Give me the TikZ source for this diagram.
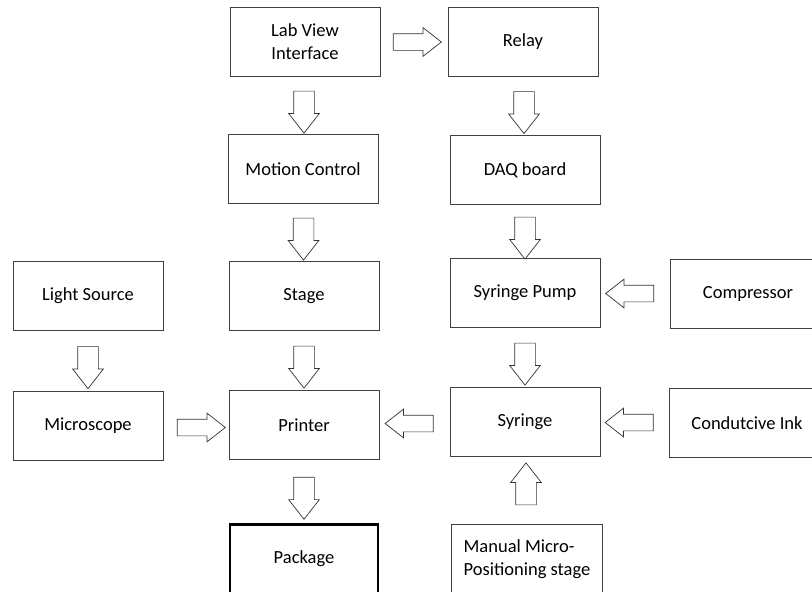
\documentclass[tikz,border=0pt]{standalone}
\usepackage{fontspec}
\setmainfont{Carlito}
\usetikzlibrary{shapes.arrows,calc}

\tikzset{
    block/.style={draw=black!75, line width=1pt, fill=white, minimum width=150pt,
        minimum height=69pt, align=center, font=\fontsize{18.5}{23}\selectfont},
    downarrow/.style={single arrow, draw=black!80, fill=white, line width=0.7pt,
        minimum height=42pt, inner sep=10pt, single arrow head extend=5pt,
        single arrow tip angle=76, rotate=-90},
    sidearrow/.style={single arrow, draw=black!80, fill=white, line width=0.7pt,
        minimum height=48pt, inner sep=8pt, single arrow head extend=6pt,
        single arrow tip angle=76}
}

\begin{document}
\begin{tikzpicture}[x=1pt, y=-1pt]
    \clip (0,0) rectangle (812,592);

    % Blocks
    \node[block] (labview) at (305,42) {Lab View\\Interface};
    \node[block] (relay)   at (523,42) {Relay};
    \node[block] (motion)  at (303,169) {Motion Control};
    \node[block] (daq)     at (525,170) {DAQ board};
    \node[block] (light)   at (88,296) {Light Source};
    \node[block] (stage)   at (304,296) {Stage};
    \node[block] (pump)    at (525,293) {Syringe Pump};
    \node[block, minimum width=156pt] (compressor) at (748,294) {Compressor};
    \node[block] (microscope) at (88,426) {Microscope};
    \node[block] (printer) at (304,425) {Printer};
    \node[block] (syringe) at (525,422) {Syringe};
    \node[block, minimum width=156pt] (ink) at (747,423) {Condutcive Ink};
    \node[block, draw=black, line width=2.5pt, minimum width=148pt] (package) at (304,559) {Package};
    \node[block, minimum width=151pt, align=left] (manual) at (527,559)
        {Manual Micro-\\Positioning stage};

    % Arrows
    \node[sidearrow] (a1) at ($(labview.east)!0.5!(relay.west)+(-2,0)$) {};
    \node[downarrow] (a2) at ($(labview.south)!0.5!(motion.north)$) {};
    \node[downarrow] (a3) at ($(relay.south)!0.5!(daq.north)$) {};
    \node[downarrow] (a4) at ($(motion.south)!0.5!(stage.north)$) {};
    \node[downarrow] (a5) at ($(daq.south)!0.5!(pump.north)$) {};
    \node[sidearrow, rotate=180] (a6) at ($(compressor.west)!0.5!(pump.east)$) {};
    \node[downarrow] (a7) at ($(light.south)!0.5!(microscope.north)$) {};
    \node[downarrow] (a8) at ($(stage.south)!0.5!(printer.north)$) {};
    \node[downarrow] (a9) at ($(pump.south)!0.5!(syringe.north)$) {};
    \node[sidearrow] (a10) at ($(microscope.east)!0.5!(printer.west)+(0,2)$) {};
    \node[sidearrow, rotate=180] (a11) at ($(syringe.west)!0.5!(printer.east)$) {};
    \node[sidearrow, rotate=180] (a12) at ($(ink.west)!0.5!(syringe.east)$) {};
    \node[downarrow] (a13) at ($(printer.south)!0.5!(package.north)$) {};
    \node[downarrow, rotate=180] (a14) at ($(manual.north)!0.5!(syringe.south)$) {};
\end{tikzpicture}
\end{document}
